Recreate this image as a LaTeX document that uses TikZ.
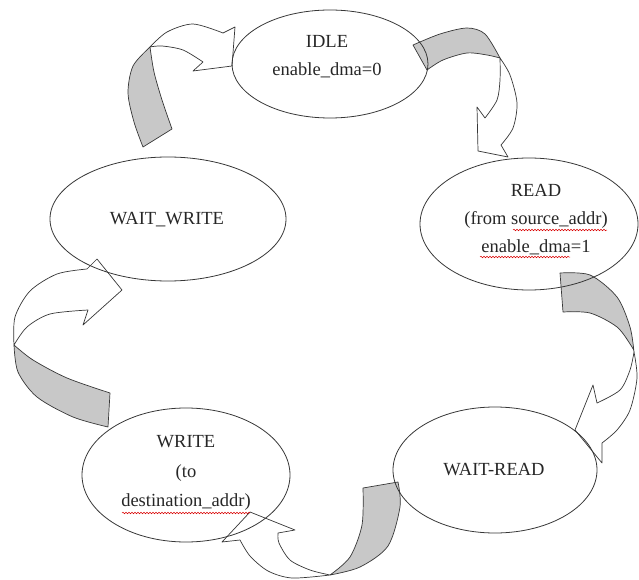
\documentclass[tikz,border=0pt]{standalone}
\usepackage{fontspec}
\setmainfont{Liberation Serif}
\usetikzlibrary{shapes.geometric,decorations.pathmorphing}
\definecolor{backgray}{RGB}{200,200,200}
\definecolor{linegray}{RGB}{55,55,55}
\begin{document}
\begin{tikzpicture}[x=1pt,y=-1pt]
\tikzstyle{state}=[draw=linegray,line width=0.8pt,ellipse,inner sep=0pt]
\tikzstyle{statetext}=[align=center,inner sep=0pt,text=black!85,font=\fontsize{18.5}{28}\selectfont]
\tikzstyle{back}=[fill=backgray,draw=linegray,line width=0.7pt,line join=round]
\tikzstyle{front}=[fill=white,draw=linegray,line width=0.7pt,line join=round]
\tikzstyle{typo}=[red!85!black,line width=0.5pt,decorate,decoration={snake,amplitude=0.8pt,segment length=3pt}]
\useasboundingbox (0,0) rectangle (639,580);

% WAIT_WRITE -> IDLE
\filldraw[back] (143,147) -- (172,129) -- plot[smooth] coordinates {(172,129) (162,100) (154,72) (150,47)}
  -- plot[smooth] coordinates {(150,47) (133,66) (128,93) (134,122) (143,147)} -- cycle;
\filldraw[front] plot[smooth] coordinates {(150,47) (167,32) (193,24) (223,33)} -- (235,27) -- (232,66) -- (193,71) -- (203,62)
  -- plot[smooth] coordinates {(203,62) (183,50) (162,46) (150,47)} -- cycle;

% IDLE -> READ
\filldraw[back] (427,70) -- (413,45) -- plot[smooth] coordinates {(413,45) (440,34) (467,28) (485,34) (500,58)}
  -- plot[smooth] coordinates {(500,58) (487,55) (467,53) (443,60) (427,70)} -- cycle;
\filldraw[front] plot[smooth] coordinates {(500,58) (510,75) (517,103) (513,128) (501,145)} -- (508,157) -- (478,151) -- (477,107) -- (485,118)
  -- plot[smooth] coordinates {(485,118) (497,100) (500,80) (500,58)} -- cycle;

% READ -> WAIT-READ
\filldraw[back] (563,312) -- (560,273) -- plot[smooth] coordinates {(560,273) (590,275) (617,297) (630,327) (634,352)}
  -- plot[smooth] coordinates {(634,352) (632,347) (617,327) (590,313) (563,312)} -- cycle;
\filldraw[front] plot[smooth] coordinates {(634,352) (637,378) (630,410) (617,430) (602,443)} -- (602,463) -- (575,430) -- (593,385) -- (597,403)
  -- plot[smooth] coordinates {(597,403) (620,390) (630,370) (634,352)} -- cycle;

% WAIT-READ -> WRITE
\filldraw[back] (363,488) -- (398,482) -- plot[smooth] coordinates {(398,482) (400,507) (388,546) (360,567) (330,575)}
  -- plot[smooth] coordinates {(330,575) (350,557) (362,525) (363,488)} -- cycle;
\filldraw[front] plot[smooth] coordinates {(330,575) (310,570) (290,560) (279,543) (278,533)} -- (295,530) -- (250,512) -- (222,542) -- (240,540)
  -- plot[smooth] coordinates {(240,540) (250,556) (268,571) (292,578) (330,575)} -- cycle;

% WRITE -> WAIT_WRITE
\filldraw[back] (110,393) -- (108,427) -- plot[smooth] coordinates {(108,427) (73,417) (37,397) (18,372) (14,345)}
  -- plot[smooth] coordinates {(14,345) (33,360) (67,378) (110,393)} -- cycle;
\filldraw[front] plot[smooth] coordinates {(14,345) (15,317) (30,291) (57,274) (87,269)} -- (97,259) -- (122,290) -- (83,325) -- (88,310)
  -- plot[smooth] coordinates {(88,310) (50,314) (27,327) (14,345)} -- cycle;

% states
\node[state,minimum width=196pt,minimum height=108pt] (idle) at (330,64) {};
\node[state,minimum width=218pt,minimum height=132pt] (read) at (529,224) {};
\node[state,minimum width=204pt,minimum height=126pt] (waitread) at (495,470) {};
\node[state,minimum width=208pt,minimum height=134pt] (write) at (186,475) {};
\node[state,minimum width=236pt,minimum height=124pt] (waitwrite) at (168,219) {};

\node[statetext] (idletext) at (327,57) {IDLE\\enable\_dma=0};
\node[statetext] (readtext) at (536,220) {READ\\(from source\_addr)\\enable\_dma=1};
\node[statetext] (waitreadtext) at (494,470) {WAIT-READ};
\node[statetext,font=\fontsize{18.5}{29.5}\selectfont] (writetext) at (186,473) {WRITE\\(to\\destination\_addr)};
\node[statetext] (waitwritetext) at (167,220) {WAIT\_WRITE};

% spelling marks
\draw[typo] (513,230) -- (607,230);
\draw[typo] (480,257) -- (570,257);
\draw[typo] (122,513) -- (250,513);
\end{tikzpicture}
\end{document}
